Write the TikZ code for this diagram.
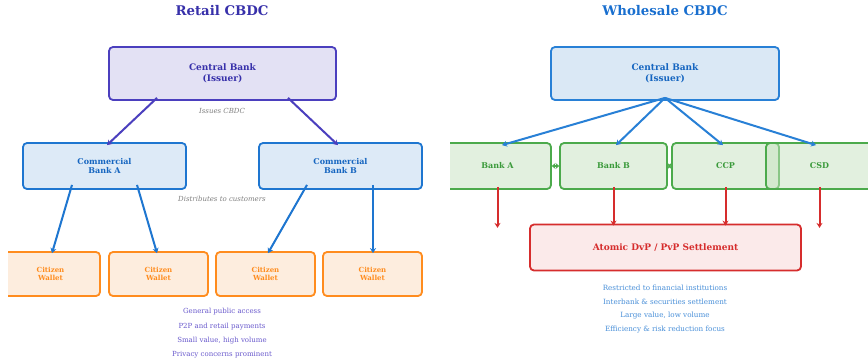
\documentclass[tikz,border=0pt]{standalone}
\usepackage{fontspec}
\setmainfont{DejaVu Serif}
\usetikzlibrary{arrows.meta}

\definecolor{rtitlec}{RGB}{55,48,170}
\definecolor{rcbfill}{RGB}{227,225,244}
\definecolor{rcbline}{RGB}{75,63,190}
\definecolor{bluefill}{RGB}{221,234,247}
\definecolor{blueline}{RGB}{30,118,208}
\definecolor{bluetext}{RGB}{21,101,192}
\definecolor{walfill}{RGB}{253,237,222}
\definecolor{walline}{RGB}{255,140,30}
\definecolor{rlistc}{RGB}{106,90,205}
\definecolor{wtitlec}{RGB}{25,111,207}
\definecolor{wcbfill}{RGB}{218,232,245}
\definecolor{wcbline}{RGB}{40,128,214}
\definecolor{greenfill}{RGB}{199,227,193}
\definecolor{greenline}{RGB}{76,170,76}
\definecolor{greentext}{RGB}{58,154,58}
\definecolor{redline}{RGB}{214,45,45}
\definecolor{redfill}{RGB}{251,234,234}
\definecolor{wlistc}{RGB}{74,144,217}

\begin{document}
\begin{tikzpicture}[x=1pt, y=-1pt,
    box/.style={draw, rounded corners=4pt, line width=1.8pt, inner sep=0pt, align=center,
      font=\fontsize{9}{10.5}\selectfont\bfseries},
    ptitle/.style={font=\fontsize{13.3}{15}\selectfont\bfseries},
    note/.style={text=gray, font=\fontsize{7}{8}\selectfont\itshape},
    rlist/.style={text=rlistc, font=\fontsize{7}{8}\selectfont},
    wlist/.style={text=wlistc, font=\fontsize{7.2}{8}\selectfont},
    rcb/.style={box, fill=rcbfill, draw=rcbline, text=rtitlec, minimum width=227pt, minimum height=53pt},
    rbank/.style={box, fill=bluefill, draw=blueline, text=bluetext, minimum width=163pt, minimum height=46pt,
      font=\fontsize{8}{9}\selectfont\bfseries},
    wallet/.style={box, fill=walfill, draw=walline, text=walline, minimum width=99pt, minimum height=44pt,
      font=\fontsize{7}{8.5}\selectfont\bfseries},
    wcb/.style={box, fill=wcbfill, draw=wcbline, text=bluetext, minimum width=228pt, minimum height=53pt},
    member/.style={box, fill=greenfill, fill opacity=0.5, text opacity=1, draw=greenline, text=greentext,
      minimum width=107pt, minimum height=46pt, font=\fontsize{8}{9}\selectfont\bfseries},
    settle/.style={box, fill=redfill, draw=redline, text=redline, minimum width=271pt, minimum height=46pt},
    rarr/.style={-{Stealth[length=5pt,width=6pt]}, line width=2pt, draw=rcbline},
    barr/.style={-{Stealth[length=5pt,width=6pt]}, line width=2pt, draw=blueline},
    garr/.style={{Stealth[length=3.5pt,width=6pt]}-{Stealth[length=3.5pt,width=6pt]}, line width=2pt, draw=greenline},
    redarr/.style={-{Stealth[length=5pt,width=6pt]}, line width=2pt, draw=redline}]
  \useasboundingbox[fill=white] (0,0) rectangle (868,360);

  % Retail CBDC
  \node[ptitle, text=rtitlec] (rtitle) at (222,11) {Retail CBDC};
  \node[rcb] (rcb) at (222.5,73.5) {Central Bank\\(Issuer)};
  \node[note] (issues) at (222,111) {Issues CBDC};
  \node[rbank] (rbankA) at (104.5,166) {Commercial\\Bank A};
  \node[rbank] (rbankB) at (340.5,166) {Commercial\\Bank B};
  \node[note] (distr) at (222,199) {Distributes to customers};
  \begin{scope}
    \clip (8,0) rectangle (440,360);
    \node[wallet] (wal1) at (50.5,274) {Citizen\\Wallet};
  \end{scope}
  \node[wallet] (wal2) at (158.5,274) {Citizen\\Wallet};
  \node[wallet] (wal3) at (265.5,274) {Citizen\\Wallet};
  \node[wallet] (wal4) at (372.5,274) {Citizen\\Wallet};

  \draw[rarr] ([xshift=-65.5pt,yshift=3pt]rcb.south) -- ([xshift=2.5pt,yshift=-3pt]rbankA.north);
  \draw[rarr] ([xshift=65.5pt,yshift=3pt]rcb.south) -- ([xshift=-2.5pt,yshift=-3pt]rbankB.north);
  \draw[barr] ([xshift=-32.5pt,yshift=5pt]rbankA.south) -- ([xshift=1.5pt,yshift=-2pt]wal1.north);
  \draw[barr] ([xshift=32.5pt,yshift=5pt]rbankA.south) -- ([xshift=-1.5pt,yshift=-2pt]wal2.north);
  \draw[barr] ([xshift=-33.5pt,yshift=5pt]rbankB.south) -- ([xshift=2.5pt,yshift=-2pt]wal3.north);
  \draw[barr] ([xshift=32.5pt,yshift=5pt]rbankB.south) -- ([xshift=0.5pt,yshift=-2pt]wal4.north);

  \node[rlist] (r1) at (222,312) {General public access};
  \node[rlist] (r2) at (222,326.5) {P2P and retail payments};
  \node[rlist] (r3) at (222,341) {Small value, high volume};
  \node[rlist] (r4) at (222,355) {Privacy concerns prominent};

  % Wholesale CBDC
  \node[ptitle, text=wtitlec] (wtitle) at (665,11) {Wholesale CBDC};
  \node[wcb] (wcb) at (665,73.5) {Central Bank\\(Issuer)};
  \begin{scope}
    \clip (450,0) rectangle (868,360);
    \node[member] (wbankA) at (497.5,166) {Bank A};
    \node[member] (wbankB) at (613.5,166) {Bank B};
    \node[member] (wccp) at (725.5,166) {CCP};
    \node[member] (wcsd) at (819.5,166) {CSD};
  \end{scope}
  \node[settle, font=\fontsize{9}{10}\selectfont\bfseries] (settle) at (665.5,247.5) {Atomic DvP / PvP Settlement};

  \draw[barr, draw=wcbline] ([yshift=3pt]wcb.south) -- ([xshift=4.5pt,yshift=-3pt]wbankA.north);
  \draw[barr, draw=wcbline] ([yshift=3pt]wcb.south) -- ([xshift=2.5pt,yshift=-3pt]wbankB.north);
  \draw[barr, draw=wcbline] ([yshift=3pt]wcb.south) -- ([xshift=-2.5pt,yshift=-3pt]wccp.north);
  \draw[barr, draw=wcbline] ([yshift=3pt]wcb.south) -- ([xshift=-3.5pt,yshift=-3pt]wcsd.north);
  \draw[garr] (wbankA.east) -- (wbankB.west);
  \draw[garr] (wbankB.east) -- (wccp.west);
  \draw[redarr] ([yshift=3pt]wbankA.south) -- ++(0,41);
  \draw[redarr] ([yshift=3pt]wbankB.south) -- ([yshift=-2pt]wbankB.south |- settle.north);
  \draw[redarr] ([yshift=3pt]wccp.south) -- ([yshift=-2pt]wccp.south |- settle.north);
  \draw[redarr] ([yshift=3pt]wcsd.south) -- ++(0,41);

  \node[wlist] (w1) at (665,288) {Restricted to financial institutions};
  \node[wlist] (w2) at (665,302) {Interbank \& securities settlement};
  \node[wlist] (w3) at (665,316) {Large value, low volume};
  \node[wlist] (w4) at (665,330) {Efficiency \& risk reduction focus};
\end{tikzpicture}
\end{document}
